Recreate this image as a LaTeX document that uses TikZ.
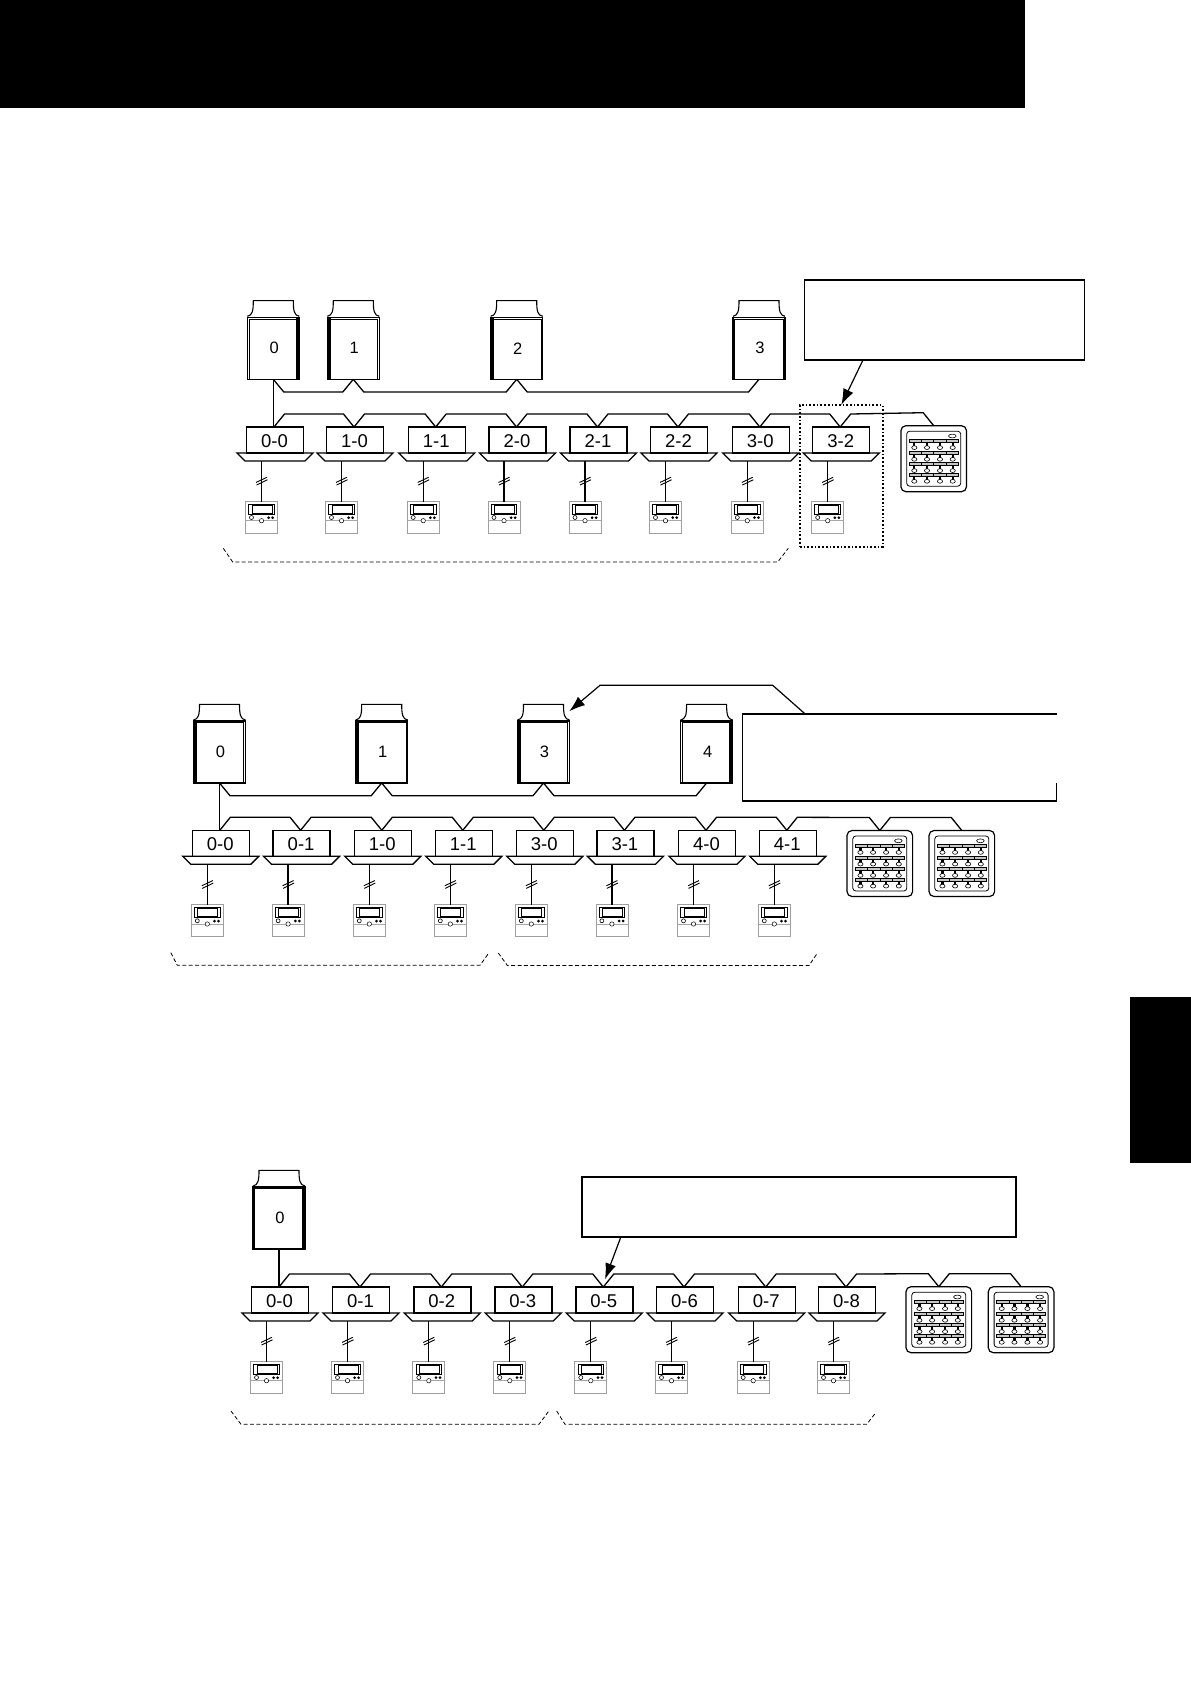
\documentclass[tikz,border=0pt]{standalone}
\usepackage{fontspec}
\setmainfont{Liberation Sans}
\usetikzlibrary{arrows.meta,positioning}

\tikzset{
  remoteface/.pic={
    \draw[line width=.9pt] (-12.8,-13.2) rectangle (12.8,-3.2);
    \draw[line width=.7pt, fill=white] (-9.5,-12) rectangle (10.5,-4.2);
    \draw[gray!70, line width=.5pt] (-16,3) -- (16,3);
    \draw[line width=.6pt] (-10,0) circle (2);
    \draw[line width=.5pt, fill=white] (0,3.2) circle (2.2);
    \fill (7.2,0.2) circle (1.5) (11.2,0.2) circle (1.5);
  },
  ctrlface/.pic={
    \draw[line width=.8pt, rounded corners=3pt] (-27,-27.5) rectangle (27,27.5);
    \draw[line width=.6pt] (18.6,-22.7) ellipse [x radius=3.8, y radius=1.9];
    \foreach \ry in {-17.7,-6,5.3,16}{
      \draw[line width=.6pt, fill=gray!45] (-24.6,\ry-1.3) rectangle (24.6,\ry+1.3);
      \foreach \tx in {-12.3,0,12.3}
        \draw[line width=.5pt] (\tx,\ry-1.3) -- (\tx,\ry+1.3);
      \foreach \bx in {-19.4,-6.7,6.3,19}{
        \fill (\bx-1.1,\ry+1.3) rectangle (\bx+1.1,\ry+5);
        \draw[line width=.6pt, fill=white] (\bx,\ry+6.6) ellipse [x radius=2.6, y radius=1.9];
      }
    }
  },
  outcase/.pic={
    \draw[line width=.8pt] (-24.3,-29.3) rectangle (24.3,31);
    \ifnum#1=0\relax\else\fill (#1*26,-31) rectangle (#1*22.7,31);\fi
    \draw[line width=1.1pt] (-26,-32) .. controls (-21,-33) and (-20,-37) .. (-20,-47.7)
      -- (20,-47.7) .. controls (20,-37) and (21,-33) .. (26,-32);
  }
}

\newcommand{\pipelink}[3]{\draw[pipeline] (#1) -- ++(10.5,#3) -- ([shift={(-10.5,#3)}]#2) -- (#2);}

\newcommand{\indoorunit}[4]{
  \node[indoorbox] (#1) at (#2,#3) {\rule{0pt}{15.2pt}\hspace*{-1pt}#4};
  \coordinate (#1t) at ([xshift=-1pt]#1.north);
  \node[panelbase, below=0pt of #1] (#1p) {};
  \draw[line width=1.3pt] (#1p.north west) -- (#1p.north east) -- ([xshift=-8pt]#1p.south east) -- ([xshift=8pt]#1p.south west) -- cycle;
  \node[remotebox, below=40.5pt of #1p, xshift=-13.5pt] (#1r) {};
  \draw[pipeline] (#1r.north |- #1p.south) -- coordinate[pos=.5] (#1s) (#1r.north);
  \draw[line width=.9pt] ([shift={(-5.5,1.2)}]#1s) -- ([shift={(5.5,-4)}]#1s);
  \draw[line width=.9pt] ([shift={(-5,3.8)}]#1s) -- ([shift={(6,-1.5)}]#1s);
  \pic at (#1r.center) {remoteface};
}

\begin{document}
\begin{tikzpicture}[
  x=1pt, y=-1pt,
  outdoorbox/.style={
    rectangle,
    draw=black,
    line width=1.1pt,
    minimum width=52pt,
    minimum height=62pt,
    inner sep=0pt,
    outer sep=0pt,
    font=\fontsize{16.5}{18}\selectfont
  },
  indoorbox/.style={
    rectangle,
    draw=black,
    line width=1.4pt,
    minimum width=57pt,
    minimum height=26pt,
    inner sep=0pt,
    outer sep=0pt,
    font=\fontsize{18.5}{20}\selectfont
  },
  panelbase/.style={
    rectangle,
    minimum width=76pt,
    minimum height=8pt,
    inner sep=0pt,
    outer sep=0pt
  },
  remotebox/.style={
    rectangle,
    draw=gray!75,
    line width=.7pt,
    minimum width=32pt,
    minimum height=32pt,
    inner sep=0pt,
    outer sep=0pt
  },
  ctrlbox/.style={
    rectangle,
    rounded corners=5pt,
    draw=black,
    line width=1.2pt,
    minimum width=65.6pt,
    minimum height=66pt,
    inner sep=0pt,
    outer sep=0pt
  },
  notebox/.style={
    rectangle,
    line width=1.2pt,
    inner sep=0pt,
    outer sep=0pt
  },
  pipeline/.style={line width=1.3pt},
  notearrow/.style={-{Latex[length=16pt,width=11pt]}, line width=1.2pt},
  bracket/.style={line width=.8pt, dash pattern=on 4pt off 2.4pt}
]
\useasboundingbox (0,0) rectangle (1191,1684);

\fill[black] (0,0) rectangle (1025,107.5);
\fill[black] (1129.5,997) rectangle (1191,1163);

% first system
\foreach \nm/\cx/\lab/\sd in {oa0/273.3/0/1, oa1/353.3/1/-1, oa2/516.7/2/-1, oa3/759/3/0}{
  \node[outdoorbox] (\nm) at (\cx,348.3) {\hspace*{2pt}\lab};
  \pic at (\nm.center) {outcase=\sd};
}
\foreach \nm/\cx/\lab in {a00/275/0-0, a10/355/1-0, a11/436.7/1-1, a20/517.5/2-0, a21/598.5/2-1, a22/679/2-2, a30/760.8/3-0, a32/841.2/3-2}{
  \indoorunit{\nm}{\cx}{440}{\lab}
}
\node[ctrlbox] (cta) at (933.7,458.7) {};
\pic at (cta.center) {ctrlface};
\node[draw, dotted, line width=1.7pt, minimum width=82.7pt, minimum height=141.7pt, inner sep=0pt, outer sep=0pt] (grp32) at (841.3,475.8) {};
\node[notebox, draw, minimum width=280pt, minimum height=80pt] (notea) at (944.3,320) {};

\draw[pipeline] (oa0.south) -- (oa0.south |- a00.north);
\foreach \a/\b in {oa0.south/oa1.south, oa1.south/oa2.south, oa2.south/oa3.south}{
  \pipelink{\a}{\b}{12.7}
}
\foreach \a/\b in {a00t/a10t, a10t/a11t, a11t/a20t, a20t/a21t, a21t/a22t, a22t/a30t, a30t/a32t, a32t/cta.north}{
  \pipelink{\a}{\b}{-13}
}
\draw[notearrow] ([xshift=-81.3pt]notea.south) -- (grp32.north);
\draw[bracket] (223.3,548.3) -- (232.7,562) -- (777.7,562) -- (788.3,548.3);

% second system
\foreach \nm/\cx/\lab/\sd in {ob0/219.5/0/-1, ob1/381.7/1/-1, ob3/543.5/3/-1, ob4/706.6/4/1}{
  \node[outdoorbox] (\nm) at (\cx,752) {\hspace*{2pt}\lab};
  \pic at (\nm.center) {outcase=\sd};
}
\foreach \nm/\cx/\lab in {b00/220.8/0-0, b01/301.6/0-1, b10/382.8/1-0, b11/463.8/1-1, b30/544.8/3-0, b31/625.4/3-1, b40/707/4-0, b41/787.8/4-1}{
  \indoorunit{\nm}{\cx}{843.3}{\lab}
}
\node[ctrlbox] (ctb) at (879.8,863.5) {};
\pic at (ctb.center) {ctrlface};
\node[ctrlbox] (ctc) at (961.8,863.5) {};
\pic at (ctc.center) {ctrlface};
\node[notebox, minimum width=314.5pt, minimum height=87pt] (noteb) at (899.5,757.5) {};
\draw[line width=1.2pt] (noteb.north east) -- (noteb.north west) -- (noteb.south west) -- (noteb.south east) -- ([yshift=18pt]noteb.south east);
\coordinate (tipb) at (569.2,711.3);

\draw[pipeline] (ob0.south) -- (ob0.south |- b00.north);
\foreach \a/\b in {ob0.south/ob1.south, ob1.south/ob3.south, ob3.south/ob4.south}{
  \pipelink{\a}{\b}{12.7}
}
\foreach \a/\b in {b00t/b01t, b01t/b10t, b10t/b11t, b11t/b30t, b30t/b31t, b31t/b40t, b40t/b41t, b41t/ctb.north, ctb.north/ctc.north}{
  \pipelink{\a}{\b}{-13}
}
\draw[notearrow] ([xshift=-94.3pt]noteb.north) -- ++(-32.5,-28.7) -- ++(-172.7,0) -- (tipb);
\draw[bracket] (170.8,952.7) -- (177.3,965.3) -- (480,965.3) -- (489,952.7);
\draw[bracket] (498.3,953) -- (507.4,965.5) -- (809,965.5) -- (817.4,953);

% third system
\node[outdoorbox] (oc0) at (279,1218) {\hspace*{2pt}0};
\pic at (oc0.center) {outcase=1};
\foreach \nm/\cx/\lab in {c00/280/0-0, c01/361/0-1, c02/442.3/0-2, c03/523.3/0-3, c05/604.3/0-5, c06/685/0-6, c07/766.7/0-7, c08/847/0-8}{
  \indoorunit{\nm}{\cx}{1300}{\lab}
}
\node[ctrlbox] (ctd) at (938.8,1319.7) {};
\pic at (ctd.center) {ctrlface};
\node[ctrlbox] (cte) at (1021.1,1319.7) {};
\pic at (cte.center) {ctrlface};
\node[notebox, draw, line width=1.8pt, minimum width=434.6pt, minimum height=60pt] (notec) at (799,1207.3) {};
\coordinate (tipc) at (605,1279.3);

\draw[pipeline] (oc0.south) -- (oc0.south |- c00.north);
\foreach \a/\b in {c00t/c01t, c01t/c02t, c02t/c03t, c03t/c05t, c05t/c06t, c06t/c07t, c07t/c08t, c08t/ctd.north, ctd.north/cte.north}{
  \pipelink{\a}{\b}{-13}
}
\draw[notearrow] ([xshift=-178.3pt]notec.south) -- (tipc);
\draw[bracket] (231,1411) -- (241,1424.3) -- (539,1424.3) -- (548.3,1411.7);
\draw[bracket] (556.7,1411) -- (565,1424.3) -- (866.7,1424.3) -- (876,1412.3);

\end{tikzpicture}
\end{document}
